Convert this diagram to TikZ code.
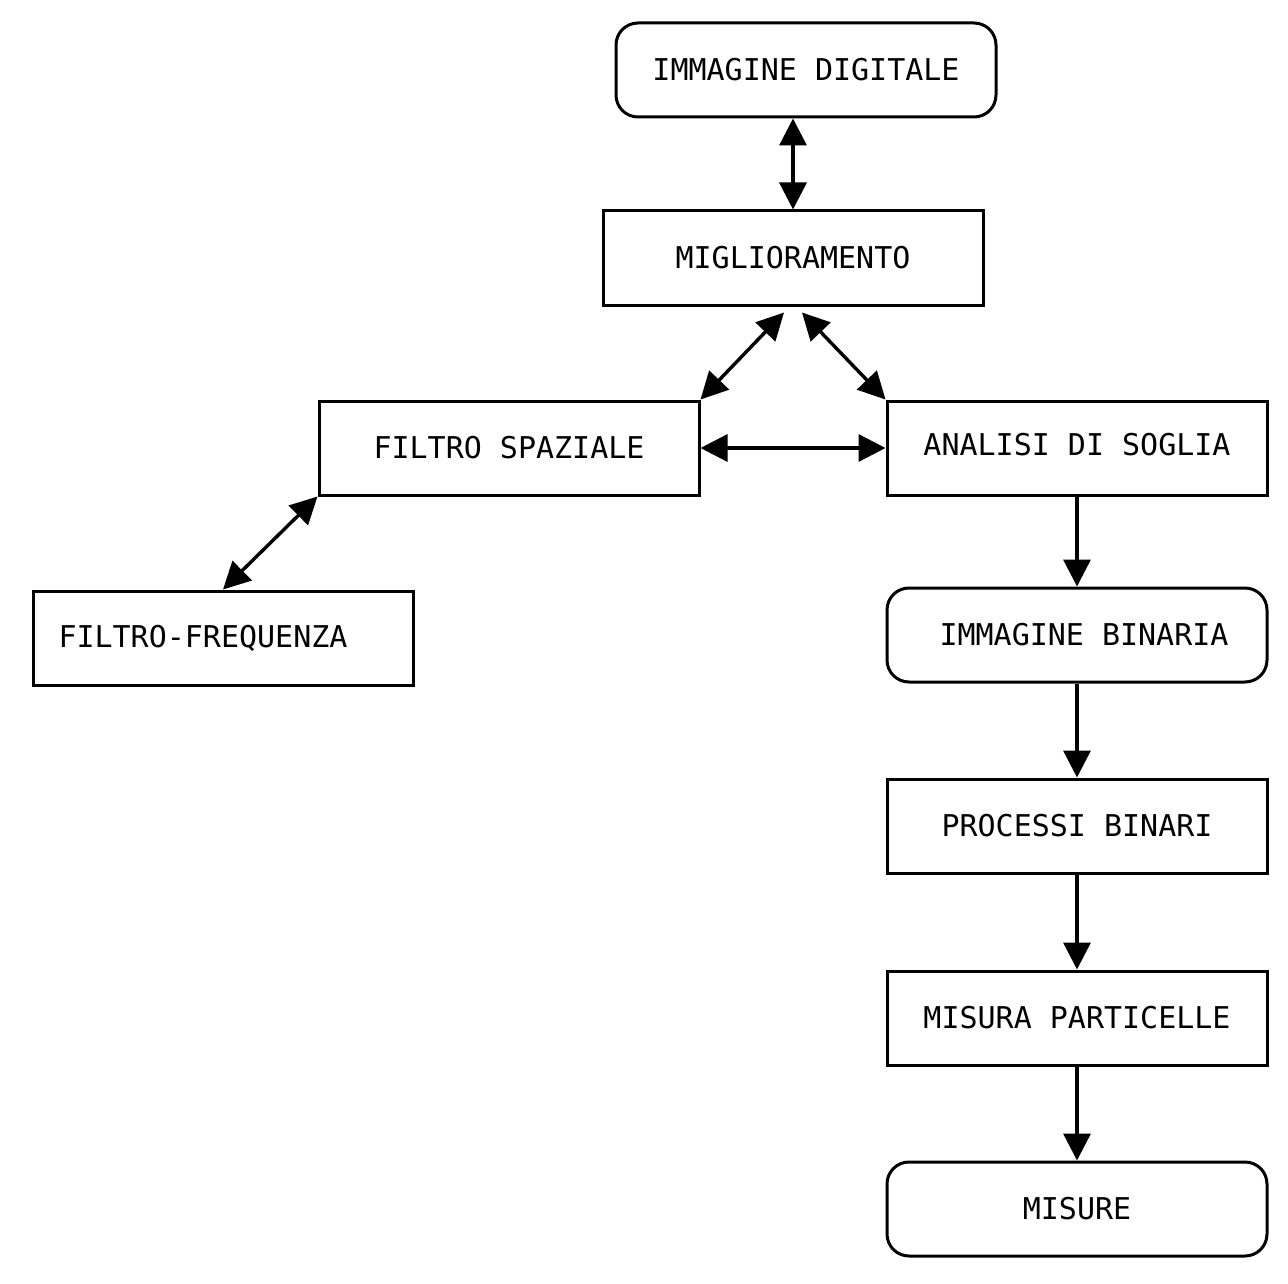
\documentclass[tikz,border=0pt]{standalone}
\usepackage{fontspec}
\setmonofont{DejaVu Sans Mono}
\usetikzlibrary{arrows.meta}
\begin{document}
\begin{tikzpicture}[x=1pt,y=-1pt,
  every node/.style={font=\ttfamily\fontsize{30}{36}\selectfont},
  sqbox/.style={draw, line width=3pt, minimum width=380pt, minimum height=94pt, inner sep=0pt},
  rdbox/.style={sqbox, rounded corners=22pt},
  conn/.style={line width=3.4pt, -{Triangle[length=27pt,width=27pt]}},
  bconn/.style={line width=3.4pt, {Triangle[length=27pt,width=27pt]}-{Triangle[length=27pt,width=27pt]}}]
\useasboundingbox (0,0) rectangle (1288,1284);
\node[rdbox] (img) at (806,70) {IMMAGINE DIGITALE};
\node[sqbox] (mig) at (793,258) {MIGLIORAMENTO};
\node[sqbox] (fs) at (509,448) {FILTRO SPAZIALE};
\node[sqbox] (an) at (1077,448) {\raisebox{8pt}{ANALISI DI SOGLIA}};
\node[sqbox] (ff) at (223,638) {\hspace*{-40pt}FILTRO-FREQUENZA};
\node[rdbox] (ib) at (1077,635) {\hspace*{14pt}IMMAGINE BINARIA};
\node[sqbox] (pb) at (1077,826) {PROCESSI BINARI};
\node[sqbox] (mp) at (1077,1018) {MISURA PARTICELLE};
\node[rdbox] (ms) at (1077,1209) {MISURE};
\draw[bconn] (mig.north) -- (mig.north |- img.south);
\draw[bconn] ([xshift=-9pt,yshift=-6pt]mig.south) -- (fs.north east);
\draw[bconn] ([xshift=9pt,yshift=-6pt]mig.south) -- (an.north west);
\draw[bconn] (fs.east) -- (an.west);
\draw[bconn] (fs.south west) -- (ff.north);
\draw[conn] (an.south) -- (ib.north);
\draw[conn] (ib.south) -- (pb.north);
\draw[conn] (pb.south) -- (mp.north);
\draw[conn] (mp.south) -- (ms.north);
\end{tikzpicture}
\end{document}
